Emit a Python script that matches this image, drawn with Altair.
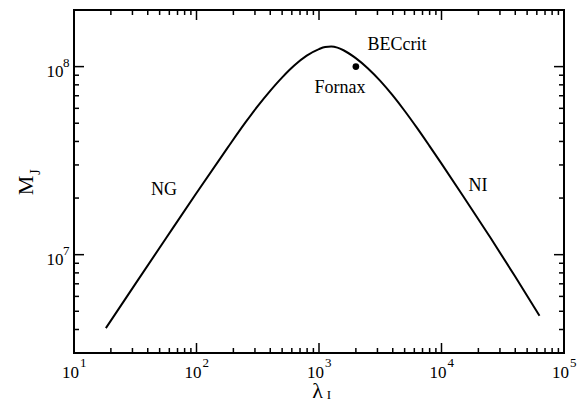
import altair as alt
import pandas as pd

# Curve (lambda_I, M_J)
lam = [18.2, 31.6, 56.2, 100, 178, 251, 316, 398, 501, 631, 794, 1000, 1122,
       1259, 1413, 1585, 1995, 2512, 3162, 3981, 5012, 6310, 7943, 10000,
       15849, 25119, 39811, 63096]
mj = [4.07e6, 6.97e6, 1.219e7, 2.128e7, 3.673e7, 5.047e7, 6.166e7, 7.413e7,
      8.770e7, 1.016e8, 1.143e8, 1.239e8, 1.271e8, 1.279e8, 1.262e8, 1.222e8,
      1.109e8, 9.772e7, 8.395e7, 7.047e7, 5.808e7, 4.721e7, 3.802e7, 3.048e7,
      1.941e7, 1.230e7, 7.674e6, 4.732e6]

fornax_lam = [2000]
fornax_mj = [1.0e8]

label_text = ["BECcrit", "Fornax", "NG", "NI"]
label_lam = [4335, 1483, 54.3, 19860]
label_mj = [1.31e8, 7.73e7, 2.20e7, 2.31e7]

x_major = [10, 100, 1000, 10000, 100000]
x_exp = ["1", "2", "3", "4", "5"]
x_minor = [20, 30, 40, 50, 60, 70, 80, 90,
           200, 300, 400, 500, 600, 700, 800, 900,
           2000, 3000, 4000, 5000, 6000, 7000, 8000, 9000,
           20000, 30000, 40000, 50000, 60000, 70000, 80000, 90000]
y_major = [1e7, 1e8]
y_exp = ["7", "8"]
y_minor = [4e6, 5e6, 6e6, 7e6, 8e6, 9e6,
           2e7, 3e7, 4e7, 5e7, 6e7, 7e7, 8e7, 9e7]

W, H = 490, 343
FONT = "Liberation Serif, Times New Roman, serif"

xs = alt.Scale(type="log", domain=[10, 1e5], nice=False)
ys = alt.Scale(type="log", domain=[3e6, 2e8], nice=False)

xaxis = alt.Axis(values=x_major, labelExpr="'10'", ticks=False, tickSize=0,
                 domain=False, grid=False, labelFont=FONT, labelFontSize=17,
                 labelColor="black", labelBaseline="middle", labelPadding=19,
                 labelOffset=-4, labelFlush=False, labelOverlap=False,
                 title="λ", titleFont=FONT, titleFontSize=22,
                 titleFontWeight="normal", titleColor="black",
                 titleBaseline="alphabetic", titleAlign="center",
                 titleX=243, titleY=44)
yaxis = alt.Axis(values=y_major, labelExpr="'10'", ticks=False, tickSize=0,
                 domain=False, grid=False, labelFont=FONT, labelFontSize=17,
                 labelColor="black", labelBaseline="middle", labelPadding=11,
                 labelOffset=4.5, labelFlush=False, labelOverlap=False,
                 title="M", titleFont=FONT, titleFontSize=22,
                 titleFontWeight="normal", titleColor="black", titleAngle=270,
                 titleBaseline="alphabetic", titleAlign="center",
                 titleX=-42, titleY=175)


def X(field):
    return alt.X(field, type="quantitative", scale=xs, axis=xaxis)


def Y(field):
    return alt.Y(field, type="quantitative", scale=ys, axis=yaxis)


df_curve = pd.DataFrame({"lam": lam, "mj": mj})
df_pt = pd.DataFrame({"lam": fornax_lam, "mj": fornax_mj})
df_lab = pd.DataFrame({"lam": label_lam, "mj": label_mj, "t": label_text})
df_xmaj = pd.DataFrame({"v": x_major, "e": x_exp})
df_xmin = pd.DataFrame({"v": x_minor})
df_ymaj = pd.DataFrame({"v": y_major, "e": y_exp})
df_ymin = pd.DataFrame({"v": y_minor})

line = alt.Chart(df_curve).mark_line(color="black", strokeWidth=2,
                                     interpolate="monotone").encode(
    x=X("lam"), y=Y("mj"))

point = alt.Chart(df_pt).mark_circle(size=45, color="black", opacity=1).encode(
    x=X("lam"), y=Y("mj"))

labels = alt.Chart(df_lab).mark_text(font=FONT, fontSize=18, color="black").encode(
    x=X("lam"), y=Y("mj"), text="t:N")


def xrules(df, y1, y2):
    return alt.Chart(df).mark_rule(color="black", strokeWidth=1.5).encode(
        x=X("v"), y=alt.value(y1), y2=alt.value(y2))


def yrules(df, x1, x2):
    return alt.Chart(df).mark_rule(color="black", strokeWidth=1.5).encode(
        y=Y("v"), x=alt.value(x1), x2=alt.value(x2))


ticks = [
    xrules(df_xmaj, H, H - 10), xrules(df_xmaj, 0, 10),
    xrules(df_xmin, H, H - 5), xrules(df_xmin, 0, 5),
    yrules(df_ymaj, 0, 10), yrules(df_ymaj, W, W - 10),
    yrules(df_ymin, 0, 5), yrules(df_ymin, W, W - 5),
]

x_exp_text = alt.Chart(df_xmaj).mark_text(font=FONT, fontSize=13, align="left",
                                          baseline="middle", dx=6,
                                          color="black").encode(
    x=X("v"), y=alt.value(H + 10), text="e:N")

y_exp_text = alt.Chart(df_ymaj).mark_text(font=FONT, fontSize=13, align="left",
                                          baseline="middle", dy=-3.5,
                                          color="black").encode(
    y=Y("v"), x=alt.value(-11), text="e:N")

sub_x = alt.Chart(pd.DataFrame({"t": ["I"]})).mark_text(
    font=FONT, fontSize=13, align="center", baseline="alphabetic",
    color="black").encode(x=alt.value(255), y=alt.value(389), text="t:N")

sub_y = alt.Chart(pd.DataFrame({"t": ["J"]})).mark_text(
    font=FONT, fontSize=14, align="center", baseline="alphabetic", angle=270,
    color="black").encode(x=alt.value(-34), y=alt.value(162), text="t:N")

chart = alt.layer(line, point, labels, *ticks, x_exp_text, y_exp_text,
                  sub_x, sub_y).properties(
    width=W, height=H,
    autosize=alt.AutoSizeParams(type="none"),
    padding={"left": 74, "top": 10, "right": 23, "bottom": 53},
).configure_view(stroke="black", strokeWidth=2)

chart.save("out.html", embed_options={"renderer": "svg", "actions": False})
